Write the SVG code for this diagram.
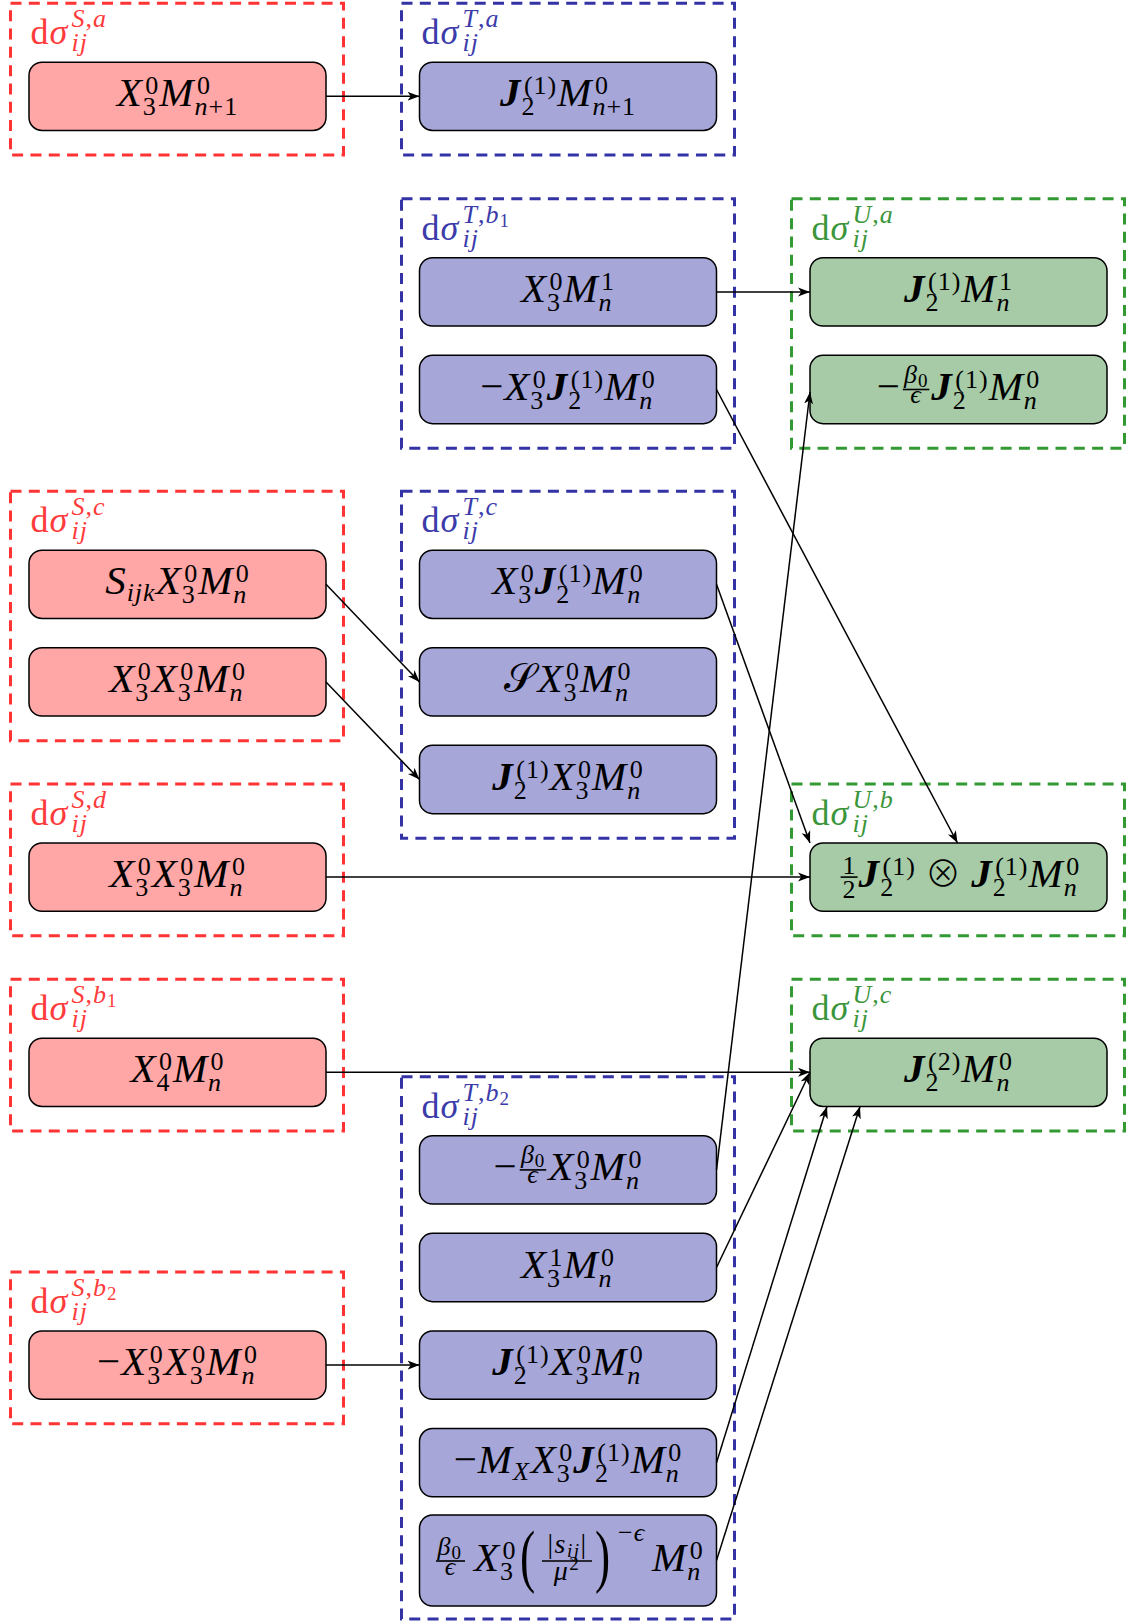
<svg xmlns="http://www.w3.org/2000/svg" width="1147" height="1621" viewBox="0 0 1147 1621">
<defs>
<style>
.t{font-family:"Liberation Serif","DejaVu Serif",serif;font-size:41px;font-style:italic;fill:#000;letter-spacing:1px}
.s{font-size:26px}
.ss{font-size:19px}
.r{font-style:normal}
.b{font-weight:bold}
.op{font-family:"Noto Sans CJK JP","DejaVu Sans",sans-serif;font-style:normal;font-weight:300;font-size:36px}
.lab{font-family:"Liberation Serif","DejaVu Serif",serif;font-size:36px;font-style:italic;letter-spacing:1px}
.ls{font-size:26px}
.lss{font-size:19px}
.gr{fill:none;stroke:#FF3333;stroke-width:3;stroke-dasharray:11 7.3}
.gb{fill:none;stroke:#3333A6;stroke-width:3;stroke-dasharray:11 7.3}
.gg{fill:none;stroke:#339933;stroke-width:3;stroke-dasharray:11 7.3}
.cr{fill:#FF3B3B}
.cb{fill:#3B3BAA}
.cg{fill:#3B963B}
.nr{fill:#FFA6A6;stroke:#000;stroke-width:1.5}
.nb{fill:#A6A6D8;stroke:#000;stroke-width:1.5}
.ng{fill:#A6CBA6;stroke:#000;stroke-width:1.5}
.bar{stroke:#000;stroke-width:1.6}
.big{font-size:70px;letter-spacing:0}
.fr{font-size:28px;letter-spacing:1.5px}
.c{fill:none;stroke:#000;stroke-width:1.5;marker-end:url(#ah)}
</style>
<marker id="ah" markerUnits="userSpaceOnUse" markerWidth="14" markerHeight="12" viewBox="0 0 14 12" refX="12" refY="6" orient="auto">
<path d="M0,1.5 L12,6 L0,10.5 L3.2,6 Z" fill="#000"/>
</marker>
</defs>
<rect width="1147" height="1621" fill="#fff"/>

<g id="grp-S-a">
<rect class="gr" x="10.5" y="3.15" width="333" height="151.85"/>
<text class="lab cr" x="30.5" y="44.15"><tspan class="r">d</tspan>σ</text>
<text class="lab ls cr" x="71.5" y="27.15">S<tspan class="r">,</tspan>a</text>
<text class="lab ls cr" x="71.5" y="51.15">ij</text>
<g id="node-S-a">
<rect class="nr" x="29" y="62.15" width="297" height="68.3" rx="13"/>
<text class="t" x="177.5" y="106.3" text-anchor="middle">X<tspan class="s r" dx="2.5" dy="-12">0</tspan><tspan class="s r" dx="-16.5" dy="21">3</tspan><tspan dx="2.5" dy="-9">M</tspan><tspan class="s r" dx="2.5" dy="-12">0</tspan><tspan class="s" dx="-16.5" dy="21">n<tspan class="r">+1</tspan></tspan></text>
</g>
</g>

<g id="grp-T-a">
<rect class="gb" x="401.5" y="3.15" width="333" height="151.85"/>
<text class="lab cb" x="421.5" y="44.15"><tspan class="r">d</tspan>σ</text>
<text class="lab ls cb" x="462.5" y="27.15">T<tspan class="r">,</tspan>a</text>
<text class="lab ls cb" x="462.5" y="51.15">ij</text>
<g id="node-T-a">
<rect class="nb" x="419.5" y="62.15" width="297" height="68.3" rx="13"/>
<text class="t" x="568" y="106.3" text-anchor="middle"><tspan class="b">J</tspan><tspan class="s r" dx="2.5" dy="-12">(1)</tspan><tspan class="s r" dx="-35.8" dy="21">2</tspan><tspan dx="21.8" dy="-9">M</tspan><tspan class="s r" dx="2.5" dy="-12">0</tspan><tspan class="s" dx="-16.5" dy="21">n<tspan class="r">+1</tspan></tspan></text>
</g>
</g>

<g id="grp-T-b1">
<rect class="gb" x="401.5" y="198.75" width="333" height="249.5"/>
<text class="lab cb" x="421.5" y="239.75"><tspan class="r">d</tspan>σ</text>
<text class="lab ls cb" x="462.5" y="222.75">T<tspan class="r">,</tspan>b<tspan class="lss r" dy="4">1</tspan></text>
<text class="lab ls cb" x="462.5" y="246.75">ij</text>
<g id="node-T-b1-1">
<rect class="nb" x="419.5" y="257.75" width="297" height="68.3" rx="13"/>
<text class="t" x="568" y="301.9" text-anchor="middle">X<tspan class="s r" dx="2.5" dy="-12">0</tspan><tspan class="s r" dx="-16.5" dy="21">3</tspan><tspan dx="2.5" dy="-9">M</tspan><tspan class="s r" dx="2.5" dy="-12">1</tspan><tspan class="s" dx="-16.5" dy="21">n</tspan></text>
</g>
<g id="node-T-b1-2">
<rect class="nb" x="419.5" y="355.35" width="297" height="68.3" rx="13"/>
<text class="t" x="568" y="399.5" text-anchor="middle"><tspan class="r">−</tspan>X<tspan class="s r" dx="2.5" dy="-12">0</tspan><tspan class="s r" dx="-16.5" dy="21">3</tspan><tspan class="b" dx="2.5" dy="-9">J</tspan><tspan class="s r" dx="2.5" dy="-12">(1)</tspan><tspan class="s r" dx="-35.8" dy="21">2</tspan><tspan dx="21.8" dy="-9">M</tspan><tspan class="s r" dx="2.5" dy="-12">0</tspan><tspan class="s" dx="-16.5" dy="21">n</tspan></text>
</g>
</g>

<g id="grp-U-a">
<rect class="gg" x="791.5" y="198.75" width="333" height="249.5"/>
<text class="lab cg" x="811.5" y="239.75"><tspan class="r">d</tspan>σ</text>
<text class="lab ls cg" x="852.5" y="222.75">U<tspan class="r">,</tspan>a</text>
<text class="lab ls cg" x="852.5" y="246.75">ij</text>
<g id="node-U-a-1">
<rect class="ng" x="810" y="257.75" width="297" height="68.3" rx="13"/>
<text class="t" x="958.5" y="301.9" text-anchor="middle"><tspan class="b">J</tspan><tspan class="s r" dx="2.5" dy="-12">(1)</tspan><tspan class="s r" dx="-35.8" dy="21">2</tspan><tspan dx="21.8" dy="-9">M</tspan><tspan class="s r" dx="2.5" dy="-12">1</tspan><tspan class="s" dx="-16.5" dy="21">n</tspan></text>
</g>
<g id="node-U-a-2">
<rect class="ng" x="810" y="355.35" width="297" height="68.3" rx="13"/>
<text class="t r" x="876.7" y="399.5">−</text>
<line class="bar" x1="902.8" y1="389.5" x2="929.3" y2="389.5"/>
<text class="t s" x="904" y="383">β<tspan class="ss r" dy="4">0</tspan></text>
<text class="t s" x="916" y="403" text-anchor="middle">ϵ</text>
<text class="t" x="931.3" y="399.5"><tspan class="b">J</tspan><tspan class="s r" dx="2.5" dy="-12">(1)</tspan><tspan class="s r" dx="-35.8" dy="21">2</tspan><tspan dx="21.8" dy="-9">M</tspan><tspan class="s r" dx="2.5" dy="-12">0</tspan><tspan class="s" dx="-16.5" dy="21">n</tspan></text>
</g>
</g>

<g id="grp-S-c">
<rect class="gr" x="10.5" y="491.15" width="333" height="249.5"/>
<text class="lab cr" x="30.5" y="532.15"><tspan class="r">d</tspan>σ</text>
<text class="lab ls cr" x="71.5" y="515.15">S<tspan class="r">,</tspan>c</text>
<text class="lab ls cr" x="71.5" y="539.15">ij</text>
<g id="node-S-c-1">
<rect class="nr" x="29" y="550.15" width="297" height="68.3" rx="13"/>
<text class="t" x="177.5" y="594.3" text-anchor="middle">S<tspan class="s" dy="7">ijk</tspan><tspan dy="-7">X</tspan><tspan class="s r" dx="2.5" dy="-12">0</tspan><tspan class="s r" dx="-16.5" dy="21">3</tspan><tspan dx="2.5" dy="-9">M</tspan><tspan class="s r" dx="2.5" dy="-12">0</tspan><tspan class="s" dx="-16.5" dy="21">n</tspan></text>
</g>
<g id="node-S-c-2">
<rect class="nr" x="29" y="647.75" width="297" height="68.3" rx="13"/>
<text class="t" x="177.5" y="691.9" text-anchor="middle">X<tspan class="s r" dx="2.5" dy="-12">0</tspan><tspan class="s r" dx="-16.5" dy="21">3</tspan><tspan dx="2.5" dy="-9">X</tspan><tspan class="s r" dx="2.5" dy="-12">0</tspan><tspan class="s r" dx="-16.5" dy="21">3</tspan><tspan dx="2.5" dy="-9">M</tspan><tspan class="s r" dx="2.5" dy="-12">0</tspan><tspan class="s" dx="-16.5" dy="21">n</tspan></text>
</g>
</g>

<g id="grp-T-c">
<rect class="gb" x="401.5" y="491.15" width="333" height="347.1"/>
<text class="lab cb" x="421.5" y="532.15"><tspan class="r">d</tspan>σ</text>
<text class="lab ls cb" x="462.5" y="515.15">T<tspan class="r">,</tspan>c</text>
<text class="lab ls cb" x="462.5" y="539.15">ij</text>
<g id="node-T-c-1">
<rect class="nb" x="419.5" y="550.15" width="297" height="68.3" rx="13"/>
<text class="t" x="568" y="594.3" text-anchor="middle">X<tspan class="s r" dx="2.5" dy="-12">0</tspan><tspan class="s r" dx="-16.5" dy="21">3</tspan><tspan class="b" dx="2.5" dy="-9">J</tspan><tspan class="s r" dx="2.5" dy="-12">(1)</tspan><tspan class="s r" dx="-35.8" dy="21">2</tspan><tspan dx="21.8" dy="-9">M</tspan><tspan class="s r" dx="2.5" dy="-12">0</tspan><tspan class="s" dx="-16.5" dy="21">n</tspan></text>
</g>
<g id="node-T-c-2">
<rect class="nb" x="419.5" y="647.75" width="297" height="68.3" rx="13"/>
<text class="t" x="568" y="691.9" text-anchor="middle"><tspan class="r">𝒮</tspan>X<tspan class="s r" dx="2.5" dy="-12">0</tspan><tspan class="s r" dx="-16.5" dy="21">3</tspan><tspan dx="2.5" dy="-9">M</tspan><tspan class="s r" dx="2.5" dy="-12">0</tspan><tspan class="s" dx="-16.5" dy="21">n</tspan></text>
</g>
<g id="node-T-c-3">
<rect class="nb" x="419.5" y="745.35" width="297" height="68.3" rx="13"/>
<text class="t" x="568" y="789.5" text-anchor="middle"><tspan class="b">J</tspan><tspan class="s r" dx="2.5" dy="-12">(1)</tspan><tspan class="s r" dx="-35.8" dy="21">2</tspan><tspan dx="21.8" dy="-9">X</tspan><tspan class="s r" dx="2.5" dy="-12">0</tspan><tspan class="s r" dx="-16.5" dy="21">3</tspan><tspan dx="2.5" dy="-9">M</tspan><tspan class="s r" dx="2.5" dy="-12">0</tspan><tspan class="s" dx="-16.5" dy="21">n</tspan></text>
</g>
</g>

<g id="grp-S-d">
<rect class="gr" x="10.5" y="783.95" width="333" height="151.9"/>
<text class="lab cr" x="30.5" y="824.95"><tspan class="r">d</tspan>σ</text>
<text class="lab ls cr" x="71.5" y="807.95">S<tspan class="r">,</tspan>d</text>
<text class="lab ls cr" x="71.5" y="831.95">ij</text>
<g id="node-S-d">
<rect class="nr" x="29" y="842.95" width="297" height="68.3" rx="13"/>
<text class="t" x="177.5" y="887.1" text-anchor="middle">X<tspan class="s r" dx="2.5" dy="-12">0</tspan><tspan class="s r" dx="-16.5" dy="21">3</tspan><tspan dx="2.5" dy="-9">X</tspan><tspan class="s r" dx="2.5" dy="-12">0</tspan><tspan class="s r" dx="-16.5" dy="21">3</tspan><tspan dx="2.5" dy="-9">M</tspan><tspan class="s r" dx="2.5" dy="-12">0</tspan><tspan class="s" dx="-16.5" dy="21">n</tspan></text>
</g>
</g>

<g id="grp-U-b">
<rect class="gg" x="791.5" y="783.95" width="333" height="151.9"/>
<text class="lab cg" x="811.5" y="824.95"><tspan class="r">d</tspan>σ</text>
<text class="lab ls cg" x="852.5" y="807.95">U<tspan class="r">,</tspan>b</text>
<text class="lab ls cg" x="852.5" y="831.95">ij</text>
<g id="node-U-b">
<rect class="ng" x="810" y="842.95" width="297" height="68.3" rx="13"/>
<line class="bar" x1="840.6" y1="877.1" x2="857.6" y2="877.1"/>
<text class="t s r" x="849.6" y="873.6" text-anchor="middle">1</text>
<text class="t s r" x="849.6" y="897.6" text-anchor="middle">2</text>
<text class="t" x="858.6" y="887.1"><tspan class="b">J</tspan><tspan class="s r" dx="2.5" dy="-12">(1)</tspan><tspan class="s r" dx="-35.8" dy="21">2</tspan><tspan class="op" dx="30.9" dy="-9">⊗</tspan><tspan class="b" dx="9.1">J</tspan><tspan class="s r" dx="2.5" dy="-12">(1)</tspan><tspan class="s r" dx="-35.8" dy="21">2</tspan><tspan dx="21.8" dy="-9">M</tspan><tspan class="s r" dx="2.5" dy="-12">0</tspan><tspan class="s" dx="-16.5" dy="21">n</tspan></text>
</g>
</g>

<g id="grp-S-b1">
<rect class="gr" x="10.5" y="979.15" width="333" height="151.85"/>
<text class="lab cr" x="30.5" y="1020.15"><tspan class="r">d</tspan>σ</text>
<text class="lab ls cr" x="71.5" y="1003.15">S<tspan class="r">,</tspan>b<tspan class="lss r" dy="4">1</tspan></text>
<text class="lab ls cr" x="71.5" y="1027.15">ij</text>
<g id="node-S-b1">
<rect class="nr" x="29" y="1038.15" width="297" height="68.3" rx="13"/>
<text class="t" x="177.5" y="1082.3" text-anchor="middle">X<tspan class="s r" dx="2.5" dy="-12">0</tspan><tspan class="s r" dx="-16.5" dy="21">4</tspan><tspan dx="2.5" dy="-9">M</tspan><tspan class="s r" dx="2.5" dy="-12">0</tspan><tspan class="s" dx="-16.5" dy="21">n</tspan></text>
</g>
</g>

<g id="grp-U-c">
<rect class="gg" x="791.5" y="979.15" width="333" height="151.85"/>
<text class="lab cg" x="811.5" y="1020.15"><tspan class="r">d</tspan>σ</text>
<text class="lab ls cg" x="852.5" y="1003.15">U<tspan class="r">,</tspan>c</text>
<text class="lab ls cg" x="852.5" y="1027.15">ij</text>
<g id="node-U-c">
<rect class="ng" x="810" y="1038.15" width="297" height="68.3" rx="13"/>
<text class="t" x="958.5" y="1082.3" text-anchor="middle"><tspan class="b">J</tspan><tspan class="s r" dx="2.5" dy="-12">(2)</tspan><tspan class="s r" dx="-35.8" dy="21">2</tspan><tspan dx="21.8" dy="-9">M</tspan><tspan class="s r" dx="2.5" dy="-12">0</tspan><tspan class="s" dx="-16.5" dy="21">n</tspan></text>
</g>
</g>

<g id="grp-T-b2">
<rect class="gb" x="401.5" y="1076.75" width="333" height="542.25"/>
<text class="lab cb" x="421.5" y="1117.75"><tspan class="r">d</tspan>σ</text>
<text class="lab ls cb" x="462.5" y="1100.75">T<tspan class="r">,</tspan>b<tspan class="lss r" dy="4">2</tspan></text>
<text class="lab ls cb" x="462.5" y="1124.75">ij</text>
<g id="node-T-b2-1">
<rect class="nb" x="419.5" y="1135.75" width="297" height="68.3" rx="13"/>
<text class="t r" x="493.6" y="1179.9">−</text>
<line class="bar" x1="519.7" y1="1169.9" x2="546.2" y2="1169.9"/>
<text class="t s" x="520.9" y="1163.4">β<tspan class="ss r" dy="4">0</tspan></text>
<text class="t s" x="533" y="1183.4" text-anchor="middle">ϵ</text>
<text class="t" x="548.2" y="1179.9">X<tspan class="s r" dx="2.5" dy="-12">0</tspan><tspan class="s r" dx="-16.5" dy="21">3</tspan><tspan dx="2.5" dy="-9">M</tspan><tspan class="s r" dx="2.5" dy="-12">0</tspan><tspan class="s" dx="-16.5" dy="21">n</tspan></text>
</g>
<g id="node-T-b2-2">
<rect class="nb" x="419.5" y="1233.35" width="297" height="68.3" rx="13"/>
<text class="t" x="568" y="1277.5" text-anchor="middle">X<tspan class="s r" dx="2.5" dy="-12">1</tspan><tspan class="s r" dx="-16.5" dy="21">3</tspan><tspan dx="2.5" dy="-9">M</tspan><tspan class="s r" dx="2.5" dy="-12">0</tspan><tspan class="s" dx="-16.5" dy="21">n</tspan></text>
</g>
<g id="node-T-b2-3">
<rect class="nb" x="419.5" y="1330.95" width="297" height="68.3" rx="13"/>
<text class="t" x="568" y="1375.1" text-anchor="middle"><tspan class="b">J</tspan><tspan class="s r" dx="2.5" dy="-12">(1)</tspan><tspan class="s r" dx="-35.8" dy="21">2</tspan><tspan dx="21.8" dy="-9">X</tspan><tspan class="s r" dx="2.5" dy="-12">0</tspan><tspan class="s r" dx="-16.5" dy="21">3</tspan><tspan dx="2.5" dy="-9">M</tspan><tspan class="s r" dx="2.5" dy="-12">0</tspan><tspan class="s" dx="-16.5" dy="21">n</tspan></text>
</g>
<g id="node-T-b2-4">
<rect class="nb" x="419.5" y="1428.55" width="297" height="68.3" rx="13"/>
<text class="t" x="568" y="1472.7" text-anchor="middle"><tspan class="r">−</tspan>M<tspan class="s" dy="7">X</tspan><tspan dx="1" dy="-7">X</tspan><tspan class="s r" dx="2.5" dy="-12">0</tspan><tspan class="s r" dx="-16.5" dy="21">3</tspan><tspan class="b" dx="2.5" dy="-9">J</tspan><tspan class="s r" dx="2.5" dy="-12">(1)</tspan><tspan class="s r" dx="-35.8" dy="21">2</tspan><tspan dx="21.8" dy="-9">M</tspan><tspan class="s r" dx="2.5" dy="-12">0</tspan><tspan class="s" dx="-16.5" dy="21">n</tspan></text>
</g>
<g id="node-T-b2-5">
<rect class="nb" x="419.5" y="1515" width="297" height="91" rx="13"/>
<line class="bar" x1="436" y1="1561" x2="465" y2="1561"/>
<text class="t s" x="437.5" y="1554.5">β<tspan class="ss r" dy="4">0</tspan></text>
<text class="t s" x="450.5" y="1574.5" text-anchor="middle">ϵ</text>
<text class="t" x="474" y="1571">X<tspan class="s r" dx="2.5" dy="-12">0</tspan><tspan class="s r" dx="-16.5" dy="21">3</tspan></text>
<text class="t r big" transform="translate(520,1578.6) scale(0.65,1)">(</text>
<line class="bar" x1="542" y1="1561" x2="592" y2="1561"/>
<text class="t fr" x="567.5" y="1553" text-anchor="middle"><tspan class="r">|</tspan>s<tspan class="ss" dy="4">ij</tspan><tspan class="r" dy="-4">|</tspan></text>
<text class="t fr" x="567" y="1580" text-anchor="middle">μ<tspan class="ss r" dy="-10">2</tspan></text>
<text class="t r big" transform="translate(595,1578.6) scale(0.65,1)">)</text>
<text class="t s" x="618" y="1541"><tspan class="r">−</tspan>ϵ</text>
<text class="t" x="652" y="1571">M<tspan class="s r" dx="2.5" dy="-12">0</tspan><tspan class="s" dx="-16.5" dy="21">n</tspan></text>
</g>
</g>

<g id="grp-S-b2">
<rect class="gr" x="10.5" y="1271.95" width="333" height="151.9"/>
<text class="lab cr" x="30.5" y="1312.95"><tspan class="r">d</tspan>σ</text>
<text class="lab ls cr" x="71.5" y="1295.95">S<tspan class="r">,</tspan>b<tspan class="lss r" dy="4">2</tspan></text>
<text class="lab ls cr" x="71.5" y="1319.95">ij</text>
<g id="node-S-b2">
<rect class="nr" x="29" y="1330.95" width="297" height="68.3" rx="13"/>
<text class="t" x="177.5" y="1375.1" text-anchor="middle"><tspan class="r">−</tspan>X<tspan class="s r" dx="2.5" dy="-12">0</tspan><tspan class="s r" dx="-16.5" dy="21">3</tspan><tspan dx="2.5" dy="-9">X</tspan><tspan class="s r" dx="2.5" dy="-12">0</tspan><tspan class="s r" dx="-16.5" dy="21">3</tspan><tspan dx="2.5" dy="-9">M</tspan><tspan class="s r" dx="2.5" dy="-12">0</tspan><tspan class="s" dx="-16.5" dy="21">n</tspan></text>
</g>
</g>

<g id="connectors">
<path class="c" d="M326,96.3 L419.5,96.3"/>
<path class="c" d="M716.5,291.9 L810,291.9"/>
<path class="c" d="M716.5,389.5 L957.5,843"/>
<path class="c" d="M326,584.3 L419.5,681.9"/>
<path class="c" d="M326,681.9 L419.5,779.5"/>
<path class="c" d="M716.5,584.3 L810,843"/>
<path class="c" d="M326,877.1 L810,877.1"/>
<path class="c" d="M326,1072.3 L810,1072.3"/>
<path class="c" d="M716.5,1169.9 L810,392"/>
<path class="c" d="M716.5,1267.5 L810,1072.3"/>
<path class="c" d="M326,1365.1 L419.5,1365.1"/>
<path class="c" d="M716.5,1462.7 L827,1106.5"/>
<path class="c" d="M716.5,1560.5 L860,1106.5"/>
</g>
</svg>
